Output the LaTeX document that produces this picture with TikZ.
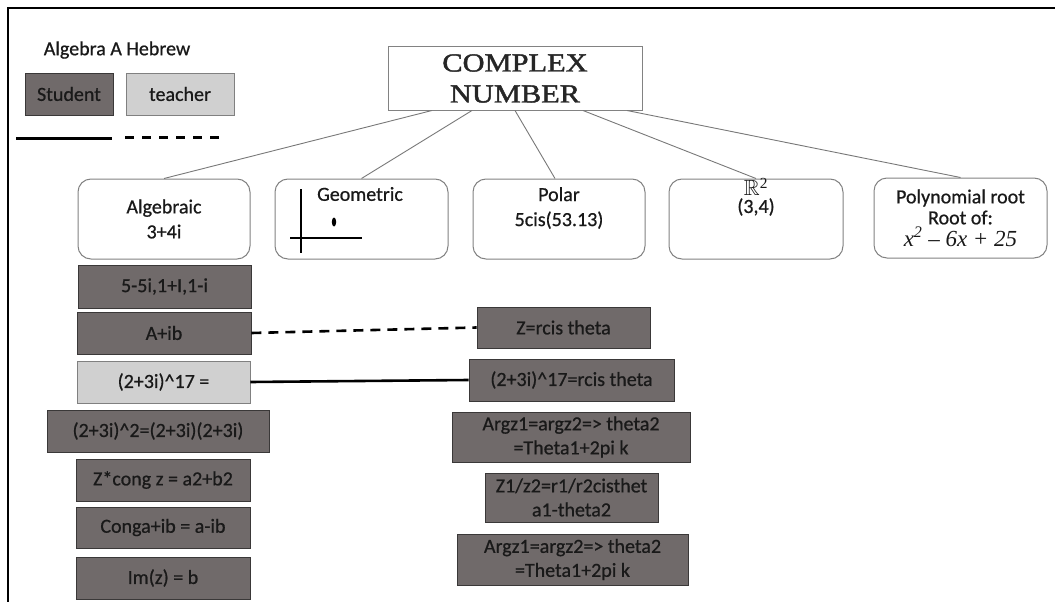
\documentclass[tikz,border=0pt]{standalone}
\usepackage{amssymb}
\usepackage{fontspec}
\setmainfont[FakeBold=0.7]{Carlito}
\newfontfamily\titlefont[FakeStretch=1.17, FakeBold=1.6]{Liberation Serif}
\newfontfamily\timesfont{Liberation Serif}
\usetikzlibrary{calc}

\definecolor{studentfill}{RGB}{112,106,106}
\definecolor{studentedge}{RGB}{58,56,56}
\definecolor{teacherfill}{RGB}{208,208,208}
\definecolor{teacheredge}{RGB}{128,128,128}
\definecolor{treeline}{RGB}{120,120,120}
\definecolor{boxedge}{RGB}{130,130,130}
\definecolor{inktext}{RGB}{25,25,25}

\tikzset{
  txt/.style={font=\fontsize{20}{25}\selectfont, text=inktext, inner sep=0pt},
  studentbox/.style={txt, draw=studentedge, line width=0.8pt, fill=studentfill, align=center},
  teacherbox/.style={txt, draw=teacheredge, line width=0.8pt, fill=teacherfill, align=center},
  formbox/.style={draw=boxedge, line width=1pt, rounded corners=13pt, fill=white,
                  minimum height=80pt, inner sep=0pt},
  treeedge/.style={draw=treeline, line width=0.9pt},
  linkline/.style={draw=black, line width=2.6pt},
  linkdash/.style={draw=black, line width=2.6pt, dash pattern=on 10pt off 7pt},
}

\begin{document}
\begin{tikzpicture}[x=1pt,y=-1pt]
\useasboundingbox (0,0) rectangle (1055,602);

% frame
\draw[line width=1.8pt] (8,602) -- (8,8) -- (1055,8);

% legend
\node[txt] (legend) at (117,50) {Algebra A Hebrew};
\node[studentbox, minimum width=88pt, minimum height=42pt] (stud) at (69,94) {Student};
\node[teacherbox, minimum width=108pt, minimum height=42pt] (teach) at (180,94) {teacher};
\coordinate (solidA) at (16,138);
\coordinate (solidB) at (112,138);
\coordinate (dashA) at (125,137);
\coordinate (dashB) at (221,137);
\draw[linkline, line width=3pt] (solidA) -- (solidB);
\draw[linkdash, line width=3pt, dash pattern=on 9pt off 8pt] (dashA) -- (dashB);

% root
\node[draw=boxedge, line width=1pt, minimum width=254pt, minimum height=63pt, inner sep=0pt,
      font=\titlefont\fontsize{26}{31}\selectfont, text=black!85, align=center]
  (cn) at (515,78.5) {COMPLEX\\NUMBER};

% representations
\node[formbox, minimum width=172pt, txt, align=center] (alg) at (164,219) {Algebraic\\3+4i};
\node[formbox, minimum width=173pt] (geo) at (361.5,219) {};
\node[formbox, minimum width=172pt] (pol) at (559,219) {};
\node[formbox, minimum width=174pt] (rr) at (756,219) {};
\node[formbox, minimum width=173pt, txt, align=center, font=\fontsize{20}{21}\selectfont]
  (poly) at (960.5,218) {Polynomial root\\Root of:\\[1pt]{\timesfont\itshape\fontsize{23}{23}\selectfont x\textsuperscript{2} – 6x + 25}};

\node[txt] (geotxt) at (360,194) {Geometric};
\draw[line width=2pt] (301,189) -- (301,253);
\draw[line width=2pt] (290,238) -- (362,238);
\fill (334,222) ellipse [x radius=2.2pt, y radius=4.5pt];

\node[txt, align=center] (poltxt) at (559,208) {Polar\\5cis(53.13)};
\node[txt, font=\timesfont\fontsize{22}{22}\selectfont] (rrtop) at (756,187) {$\mathbb{R}$\textsuperscript{2}};
\node[txt] (rrbot) at (756,207) {(3,4)};

% tree edges
\draw[treeedge] ($(cn.south)+(-83,0)$) -- (alg.north);
\draw[treeedge] ($(cn.south)+(-43,0)$) -- (geo.north);
\draw[treeedge] ($(cn.south)+(0,0)$) -- ($(pol.north)+(-4,0)$);
\draw[treeedge] ($(cn.south)+(68,0)$) -- (rr.north);
\draw[treeedge] ($(cn.south)+(112,0)$) -- (poly.north);

% algebraic column
\node[studentbox, minimum width=173pt, minimum height=43pt] (b1) at (164.5,286.5) {5-5i,1+I,1-i};
\node[studentbox, minimum width=174pt, minimum height=42pt] (b2) at (164,333) {A+ib};
\node[teacherbox, minimum width=173pt, minimum height=42pt] (b3) at (163.5,382) {(2+3i)\^{}17 =};
\node[studentbox, minimum width=222pt, minimum height=42pt] (b4) at (158,431) {(2+3i)\^{}2=(2+3i)(2+3i)};
\node[studentbox, minimum width=174pt, minimum height=42pt] (b5) at (163,480) {Z*cong z = a2+b2};
\node[studentbox, minimum width=174pt, minimum height=41pt] (b6) at (163,527.5) {Conga+ib = a-ib};
\node[studentbox, minimum width=174pt, minimum height=42pt] (b7) at (163,578) {Im(z) = b};

% polar column
\node[studentbox, minimum width=173pt, minimum height=41pt] (r1) at (563.5,327.5) {Z=rcis theta};
\node[studentbox, minimum width=205pt, minimum height=42pt] (r2) at (571.5,380) {(2+3i)\^{}17=rcis theta};
\node[studentbox, minimum width=238pt, minimum height=50pt, font=\fontsize{20}{24}\selectfont]
  (r3) at (571,437) {Argz1=argz2=> theta2\\=Theta1+2pi k};
\node[studentbox, minimum width=173pt, minimum height=49pt, font=\fontsize{20}{24}\selectfont]
  (r4) at (571.5,497.5) {Z1/z2=r1/r2cisthet\\a1-theta2};
\node[studentbox, minimum width=231pt, minimum height=51pt, font=\fontsize{20}{24}\selectfont]
  (r5) at (572.5,559.5) {Argz1=argz2=> theta2\\=Theta1+2pi k};

% links between columns
\draw[linkdash] (b2.east) -- (r1.west);
\draw[linkline] (b3.east) -- (r2.west);
\end{tikzpicture}
\end{document}
